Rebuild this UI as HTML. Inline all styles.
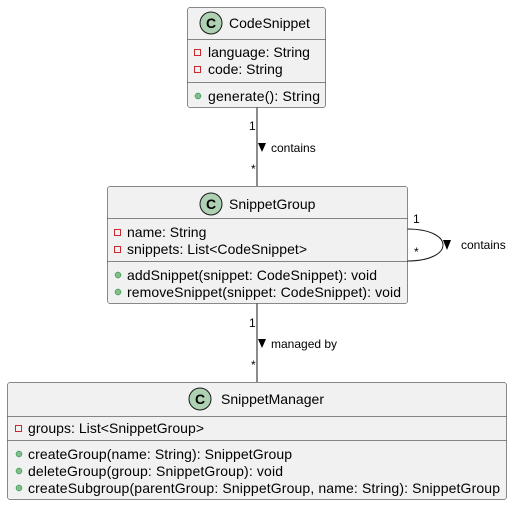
<!DOCTYPE html>
<html><head><meta charset="utf-8"><style>
html,body{margin:0;padding:0;background:#fff}
svg{display:block}
text{font-family:"Liberation Sans",sans-serif;fill:#000}
</style></head><body>
<svg width="522" height="506" viewBox="0 0 522 506">
<g stroke="#181818" stroke-width="1" fill="none">
<line x1="257" y1="107" x2="257" y2="186"/>
<line x1="257" y1="303" x2="257" y2="382"/>
<path d="M407,229 C455,229 455,261 407,261"/>
</g>
<g fill="#000">
<polygon points="258,143 266,143 262,152"/>
<polygon points="258,339 266,339 262,348"/>
<polygon points="443,240 451,240 447,250"/>
</g>
<g font-size="12">
<text x="249" y="130">1</text><text x="251" y="173">*</text>
<text x="271" y="152">contains</text>
<text x="249" y="327">1</text><text x="251" y="369">*</text>
<text x="271" y="348">managed by</text>
<text x="413" y="223">1</text><text x="414" y="256">*</text>
<text x="461" y="249">contains</text>
</g>
<!-- CodeSnippet -->
<rect x="187.5" y="7.5" width="138" height="100" rx="2.5" fill="#F1F1F1" stroke="#181818" stroke-width="0.5"/>
<line x1="187.5" y1="39.5" x2="325.5" y2="39.5" stroke="#181818" stroke-width="0.5"/>
<line x1="187.5" y1="82.5" x2="325.5" y2="82.5" stroke="#181818" stroke-width="0.5"/>
<circle cx="211" cy="23" r="11" fill="#ADD1B2" stroke="#181818"/>
<text x="211" y="28" font-size="14" font-weight="bold" text-anchor="middle">C</text>
<text x="229" y="28" font-size="14">CodeSnippet</text>
<rect x="194.5" y="49.5" width="6" height="6" fill="none" stroke="#C82930"/>
<text x="208" y="57" font-size="14">language: String</text>
<rect x="194.5" y="66.5" width="6" height="6" fill="none" stroke="#C82930"/>
<text x="208" y="74" font-size="14">code: String</text>
<circle cx="198" cy="96" r="3" fill="#84BE84" stroke="#038048" stroke-width="0.5"/>
<text x="208" y="101" font-size="14" textLength="112">generate(): String</text>
<!-- SnippetGroup -->
<rect x="107.5" y="186.5" width="300" height="117" rx="2.5" fill="#F1F1F1" stroke="#181818" stroke-width="0.5"/>
<line x1="107.5" y1="218.5" x2="407.5" y2="218.5" stroke="#181818" stroke-width="0.5"/>
<line x1="107.5" y1="261.5" x2="407.5" y2="261.5" stroke="#181818" stroke-width="0.5"/>
<circle cx="211" cy="204" r="11" fill="#ADD1B2" stroke="#181818"/>
<text x="211" y="209" font-size="14" font-weight="bold" text-anchor="middle">C</text>
<text x="229" y="209" font-size="14">SnippetGroup</text>
<rect x="114.5" y="229.5" width="6" height="6" fill="none" stroke="#C82930"/>
<text x="127" y="237" font-size="14">name: String</text>
<rect x="114.5" y="246.5" width="6" height="6" fill="none" stroke="#C82930"/>
<text x="127" y="254" font-size="14" textLength="180">snippets: List&lt;CodeSnippet&gt;</text>
<circle cx="118" cy="275" r="3" fill="#84BE84" stroke="#038048" stroke-width="0.5"/>
<text x="127" y="280" font-size="14" textLength="250">addSnippet(snippet: CodeSnippet): void</text>
<circle cx="118" cy="292" r="3" fill="#84BE84" stroke="#038048" stroke-width="0.5"/>
<text x="127" y="297" font-size="14" textLength="274">removeSnippet(snippet: CodeSnippet): void</text>
<!-- SnippetManager -->
<rect x="7.5" y="382.5" width="499" height="117" rx="2.5" fill="#F1F1F1" stroke="#181818" stroke-width="0.5"/>
<line x1="7.5" y1="416.5" x2="506.5" y2="416.5" stroke="#181818" stroke-width="0.5"/>
<line x1="7.5" y1="440.5" x2="506.5" y2="440.5" stroke="#181818" stroke-width="0.5"/>
<circle cx="200" cy="399" r="11" fill="#ADD1B2" stroke="#181818"/>
<text x="200" y="404" font-size="14" font-weight="bold" text-anchor="middle">C</text>
<text x="221" y="404" font-size="14" textLength="103">SnippetManager</text>
<rect x="15.5" y="425.5" width="6" height="6" fill="none" stroke="#C82930"/>
<text x="28" y="433" font-size="14" textLength="176">groups: List&lt;SnippetGroup&gt;</text>
<circle cx="19" cy="454" r="3" fill="#84BE84" stroke="#038048" stroke-width="0.5"/>
<text x="28" y="459" font-size="14" textLength="264">createGroup(name: String): SnippetGroup</text>
<circle cx="19" cy="471" r="3" fill="#84BE84" stroke="#038048" stroke-width="0.5"/>
<text x="28" y="476" font-size="14" textLength="255">deleteGroup(group: SnippetGroup): void</text>
<circle cx="19" cy="488" r="3" fill="#84BE84" stroke="#038048" stroke-width="0.5"/>
<text x="28" y="493" font-size="14" textLength="472">createSubgroup(parentGroup: SnippetGroup, name: String): SnippetGroup</text>
</svg>
</body></html>
